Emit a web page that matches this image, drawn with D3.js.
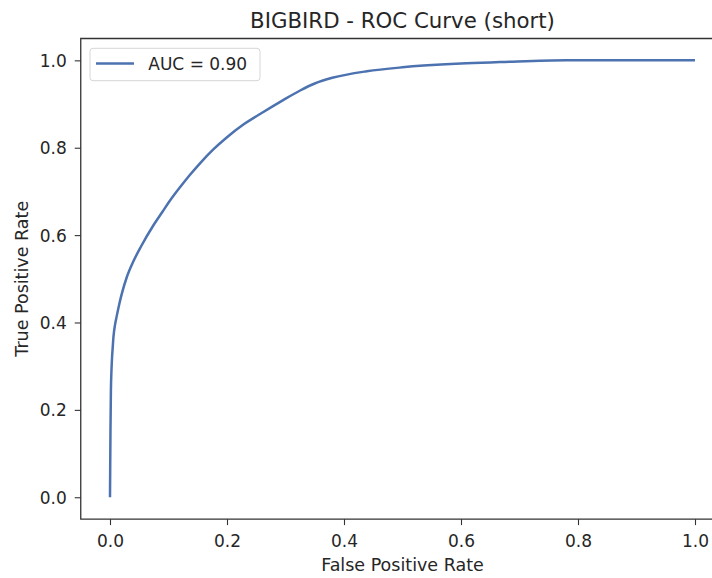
<!DOCTYPE html>
<html>
<head>
<meta charset="utf-8">
<script src="https://cdn.jsdelivr.net/npm/d3@7"></script>
<style>
  html, body { margin: 0; padding: 0; background: #fff; }
  svg { display: block; font-family: "DejaVu Sans", sans-serif; }
</style>
</head>
<body>
<svg id="chart" width="712" height="578"></svg>
<script>
// ---- data ----
const fpr = [0, 0.0003, 0.0008, 0.0015, 0.0025, 0.0035, 0.0045, 0.006, 0.0085, 0.0114, 0.016, 0.020, 0.0285, 0.040, 0.053, 0.074, 0.090, 0.1026, 0.120, 0.1368, 0.155, 0.1766, 0.200, 0.228, 0.260, 0.296, 0.325, 0.350, 0.380, 0.439, 0.500, 0.536, 0.600, 0.667, 0.780, 0.900, 1.0];
const tpr = [0, 0.06, 0.15, 0.24, 0.29, 0.32, 0.340, 0.368, 0.394, 0.414, 0.443, 0.465, 0.503, 0.540, 0.574, 0.622, 0.654, 0.679, 0.710, 0.738, 0.766, 0.796, 0.824, 0.853, 0.880, 0.909, 0.931, 0.947, 0.960, 0.975, 0.984, 0.988, 0.993, 0.996, 1.0, 1.0, 1.0];
const xTicks = [0.0, 0.2, 0.4, 0.6, 0.8, 1.0];
const yTicks = [0.0, 0.2, 0.4, 0.6, 0.8, 1.0];
const titleText = "BIGBIRD - ROC Curve (short)";
const xLabel = "False Positive Rate";
const yLabel = "True Positive Rate";
const legendLabel = "AUC = 0.90";

// ---- layout ----
const pLeft = 80.75, pRight = 724.25, pTop = 38.5, pBottom = 519.1;
const lineColor = "#4C72B0";
const textColor = "#262626";

const svg = d3.select("#chart");
const x = d3.scaleLinear().domain([-0.05, 1.05]).range([pLeft, pRight]);
const y = d3.scaleLinear().domain([-0.05, 1.05]).range([pBottom, pTop]);

// curve
const pts = fpr.map((f, i) => [f, tpr[i]]);
svg.append("path")
  .datum(pts)
  .attr("fill", "none")
  .attr("stroke", lineColor)
  .attr("stroke-width", 2.5)
  .attr("stroke-linejoin", "round")
  .attr("stroke-linecap", "butt")
  .attr("d", d3.line().curve(d3.curveMonotoneX).x(d => x(d[0])).y(d => y(d[1])));

// axes
const xAxis = svg.append("g")
  .attr("transform", `translate(0,${pBottom})`)
  .call(d3.axisBottom(x).tickValues(xTicks).tickFormat(d3.format(".1f")).tickSize(6).tickSizeOuter(0));
xAxis.select(".domain").remove();
xAxis.selectAll(".tick line").attr("stroke", "#333").attr("stroke-width", 1.1);
xAxis.selectAll(".tick text")
  .attr("y", 27.6).attr("dy", 0)
  .attr("fill", textColor)
  .style("font-size", "17px").style("font-family", "DejaVu Sans");

const yAxis = svg.append("g")
  .attr("transform", `translate(${pLeft},0)`)
  .call(d3.axisLeft(y).tickValues(yTicks).tickFormat(d3.format(".1f")).tickSize(6).tickSizeOuter(0));
yAxis.select(".domain").remove();
yAxis.selectAll(".tick line").attr("stroke", "#333").attr("stroke-width", 1.1);
yAxis.selectAll(".tick text")
  .attr("x", -14).attr("dy", "0.36em")
  .attr("fill", textColor)
  .style("font-size", "17px").style("font-family", "DejaVu Sans");

// spines (left, bottom, top; right is outside the frame)
svg.append("path")
  .attr("d", `M${pRight},${pTop}H${pLeft}V${pBottom}H${pRight}`)
  .attr("fill", "none")
  .attr("stroke", "#333")
  .attr("stroke-width", 1.3);

// title
svg.append("text")
  .attr("x", (pLeft + pRight) / 2).attr("y", 28.3)
  .attr("text-anchor", "middle")
  .attr("fill", textColor)
  .style("font-size", "21.3px")
  .text(titleText);

// axis labels
svg.append("text")
  .attr("x", (pLeft + pRight) / 2).attr("y", 571)
  .attr("text-anchor", "middle")
  .attr("fill", textColor)
  .style("font-size", "17.5px")
  .text(xLabel);

svg.append("text")
  .attr("transform", `translate(28,${(pTop + pBottom) / 2}) rotate(-90)`)
  .attr("text-anchor", "middle")
  .attr("fill", textColor)
  .style("font-size", "17.5px")
  .text(yLabel);

// legend
const lg = svg.append("g");
lg.append("rect")
  .attr("x", 90).attr("y", 48.3).attr("width", 170).attr("height", 32.4)
  .attr("rx", 3).attr("ry", 3)
  .attr("fill", "#fff").attr("fill-opacity", 0.8)
  .attr("stroke", "#d6d6d6").attr("stroke-width", 1);
lg.append("line")
  .attr("x1", 96).attr("x2", 134).attr("y1", 63.5).attr("y2", 63.5)
  .attr("stroke", lineColor).attr("stroke-width", 2.5);
lg.append("text")
  .attr("x", 148.3).attr("y", 69.6)
  .attr("fill", textColor)
  .style("font-size", "17px")
  .text(legendLabel);
</script>
</body>
</html>
